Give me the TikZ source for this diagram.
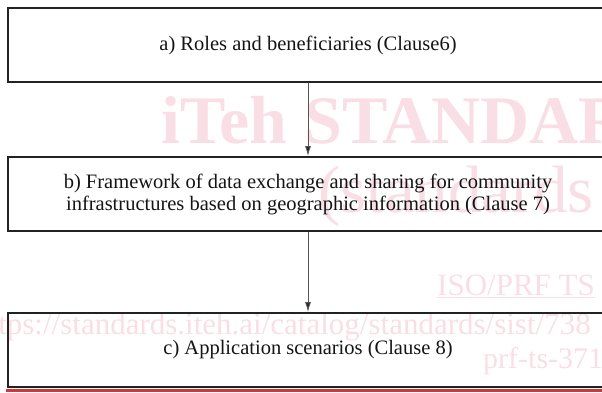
\documentclass[tikz,border=0pt]{standalone}
\usepackage{fontspec}
\setmainfont{Liberation Serif}
\usetikzlibrary{arrows.meta}
\definecolor{wmpink}{HTML}{F9DEE5}
\definecolor{boxline}{HTML}{222222}
\definecolor{connline}{HTML}{555555}
\definecolor{redline}{HTML}{D2363A}
\begin{document}
\begin{tikzpicture}[x=1pt,y=-1pt,
  stagebox/.style={draw=boxline, line width=1.8pt, minimum width=600pt, inner sep=0pt,
    align=center, font=\fontsize{20.5}{22}\selectfont, text=black!92},
  conn/.style={draw=connline, line width=0.9pt, -{Latex[length=10pt,width=6pt,fill=black!85]}},
  wmtext/.style={text=wmpink, inner sep=0pt, anchor=base west}]
\useasboundingbox (0,0) rectangle (602,392);
\begin{scope}
\clip (0,0) rectangle (602,392);
% watermark
\node[wmtext, font=\fontsize{68}{68}\selectfont\bfseries] (wm1) at (161,143) {iTeh STANDARD};
\node[wmtext, font=\fontsize{67}{67}\selectfont] (wm2) at (318,212) {(standards};
\node[wmtext, font=\fontsize{31}{31}\selectfont] (wm3) at (437,295) {\underline{ISO/PRF TS}};
\node[wmtext, font=\fontsize{31}{31}\selectfont] (wm4) at (-26,334) {https://standards.iteh.ai/catalog/standards/sist/738};
\node[wmtext, font=\fontsize{30}{30}\selectfont] (wm5) at (483,368) {prf-ts-371};
% boxes
\node[stagebox, minimum height=74pt] (a) at (308,45) {\raisebox{-3.5pt}{a) Roles and beneficiaries (Clause6)}};
\node[stagebox, minimum height=74pt] (b) at (308,194) {b) Framework of data exchange and sharing for community\\infrastructures based on geographic information (Clause 7)};
\node[stagebox, minimum height=74pt] (c) at (308,350) {c) Application scenarios (Clause 8)};
\draw[conn] (a.south) -- (b.north);
\draw[conn] (b.south) -- (c.north);
\draw[redline, line width=2.5pt] (6,390.5) -- (602,390.5);
\end{scope}
\end{tikzpicture}
\end{document}
